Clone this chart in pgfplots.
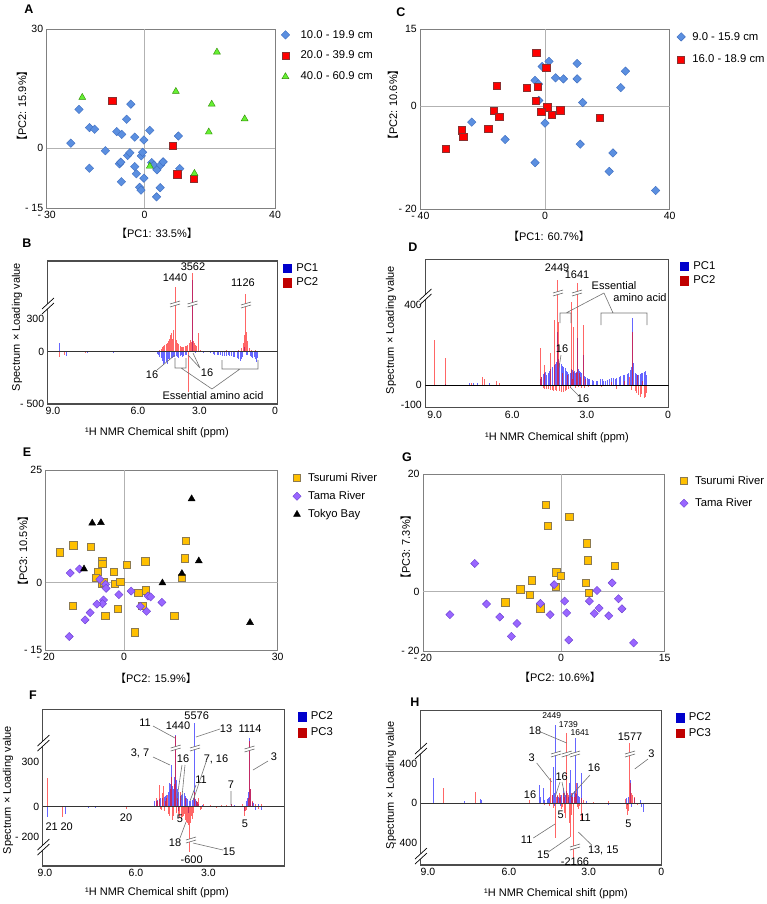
\documentclass[border=0pt]{standalone}
\usepackage{fontspec}
\setmainfont{Liberation Sans}
\newfontfamily\cjk{Noto Sans CJK JP}
\usepackage{pgfplots}
\pgfplotsset{compat=1.18}
\definecolor{dia}{HTML}{5B8FE0}
\definecolor{diaE}{HTML}{3E6DC0}
\definecolor{sqr}{HTML}{FF0000}
\definecolor{sqrE}{HTML}{8A3030}
\definecolor{tgr}{HTML}{66F033}
\definecolor{tgrE}{HTML}{2E8B00}
\definecolor{yel}{HTML}{FFC000}
\definecolor{yelE}{HTML}{8C7A50}
\definecolor{purp}{HTML}{9966FF}
\definecolor{purpE}{HTML}{6A40D0}
\definecolor{spB}{HTML}{0000FF}
\definecolor{spR}{HTML}{FF0000}
\definecolor{legB}{HTML}{0000CC}
\definecolor{legR}{HTML}{C00000}
\newcommand{\LB}{{\cjk【}}
\newcommand{\RB}{{\cjk】}}
\newcommand{\brk}[2]{%
  \fill[white] (#1-5,#2) -- (#1+5,#2-3) -- (#1+5,#2) -- (#1-5,#2+3) -- cycle;
  \draw[black!60,line width=0.6pt] (#1-5,#2) -- (#1+5,#2-3) (#1-5,#2+3) -- (#1+5,#2);}
\newcommand{\ybrk}[2]{%
  \fill[white] (#1-6,#2+3) -- (#1+6,#2-8) -- (#1+6,#2-3) -- (#1-6,#2+8) -- cycle;
  \draw[black,line width=0.7pt] (#1-6,#2+3) -- (#1+6,#2-8) (#1-6,#2+8) -- (#1+6,#2-3);}
\pgfplotsset{
  base/.style={scale only axis, anchor=north west, tick style={draw=none}, major tick length=0pt,
    tick label style={font=\fontsize{10.5}{12}\selectfont}, legend cell align=left},
  sc/.style={base, axis line style={draw=black!50, line width=0.9pt},
    legend style={at={(1,1)}, anchor=north west, draw=none, fill=none,
      font=\fontsize{11.3}{13}\selectfont, row sep=7pt, column sep=4pt, inner sep=0pt, xshift=2pt, yshift=1pt}},
  sp/.style={base, x dir=reverse, axis line style={draw=black!70, line width=1.4pt},
    legend style={at={(1,1)}, anchor=north west, draw=none, fill=none,
      font=\fontsize{11.3}{13}\selectfont, row sep=1pt, column sep=3pt, inner sep=0pt, xshift=5pt, yshift=0pt}},
  comb/.style={ycomb, forget plot, line width=1.0pt, opacity=0.6},
  mdia/.style={only marks, mark=square*, mark size=3.0pt, mark options={rotate=45, fill=dia, draw=diaE, line width=0.4pt}},
  msqr/.style={only marks, mark=square*, mark size=3.6pt, mark options={fill=sqr, draw=sqrE, line width=0.5pt}},
  mtri/.style={only marks, mark=triangle*, mark size=4pt, mark options={fill=tgr, draw=tgrE, line width=0.4pt}},
  myel/.style={only marks, mark=square*, mark size=3.7pt, mark options={fill=yel, draw=yelE, line width=0.7pt}},
  mpur/.style={only marks, mark=square*, mark size=2.9pt, mark options={rotate=45, fill=purp, draw=purpE, line width=0.4pt}},
  mblk/.style={only marks, mark=triangle*, mark size=4pt, mark options={fill=black, draw=black}},
}
\begin{document}
\begin{tikzpicture}[font=\fontsize{11}{13}\selectfont]
\path[use as bounding box] (0pt,0pt) rectangle (766pt,-904pt);

% ---------------- A ----------------
\begin{axis}[sc, at={(46.7pt,-29pt)}, width=228.3pt, height=179pt,
  xmin=-30, xmax=40, ymin=-15, ymax=30,
  xtick={-30,0,40}, xticklabels={- 30,0,40}, ytick={-15,0,30}, yticklabels={- 15,0,30},
  legend style={row sep=7.5pt, column sep=9pt, xshift=4pt}]
\draw[black!30, line width=0.7pt] (0,-15) -- (0,30) (-30,0) -- (40,0);
\addplot[mdia] coordinates {(-22.6,1.3) (-20.1,9.8) (-16.9,5.2) (-15.3,4.8) (-16.9,-5.0) (-12.0,-0.6)
 (-8.5,4.2) (-7.0,3.5) (-7.7,-3.9) (-7.3,-3.5) (-7.1,-8.4) (-5.2,-1.8) (-4.5,-1.1) (-5.5,7.3) (-4.2,11.1)
 (-3.0,2.8) (-3.0,-4.6) (-2.5,-6.4) (-1.0,-1.9) (-0.6,-1.0) (-0.2,2.1) (-0.2,-7.5) (-1.5,-9.8) (-1.1,-10.5)
 (1.6,4.5) (2.2,-3.6) (2.9,-4.2) (3.8,-5.4) (4.9,-4.2) (5.7,-3.4) (4.8,-9.9) (3.7,-12.2) (10.4,3.1) (10.8,-5.1)};
\addlegendentry{10.0 - 19.9 cm}
\addplot[msqr] coordinates {(-9.9,12.0) (8.6,0.7) (10.0,-6.5) (15.2,-7.7)};
\addlegendentry{20.0 - 39.9 cm}
\addplot[mtri] coordinates {(-19.1,12.8) (9.6,14.3) (22.2,24.2) (20.6,11.1) (30.7,7.4) (19.7,4.1) (1.6,-4.5) (15.3,-6.3)};
\addlegendentry{40.0 - 60.9 cm}
\end{axis}

% ---------------- C ----------------
\begin{axis}[sc, at={(420.3pt,-29pt)}, width=249.4pt, height=180pt,
  xmin=-40, xmax=40, ymin=-20, ymax=15,
  xtick={-40,0,40}, xticklabels={- 40,0,40}, ytick={-20,0,15}, yticklabels={- 20,0,15},
  legend style={row sep=9.5pt, yshift=-2pt, xshift=5pt, column sep=5pt}]
\draw[black!30, line width=0.7pt] (0,-20) -- (0,15) (-40,0) -- (40,0);
\addplot[mdia] coordinates {(-23.5,-3.1) (-12.8,-6.5) (-3.2,-11.0) (-0.9,7.7) (1.3,8.7) (-3.2,5.0) (-2.1,4.3)
 (-2.0,1.1) (0.0,-3.3) (3.4,5.5) (5.9,5.3) (10.3,8.3) (10.3,5.3) (12.1,0.7) (11.3,-7.4) (21.8,-9.1)
 (20.6,-12.7) (24.3,3.6) (25.8,6.8) (35.5,-16.4)};
\addlegendentry{9.0 - 15.9 cm}
\addplot[msqr] coordinates {(-31.9,-8.3) (-26.8,-4.7) (-26.2,-6.0) (-18.2,-4.4) (-16.4,-0.9) (-14.7,-2.0)
 (-15.6,3.9) (-5.8,3.5) (-2.8,10.4) (-2.4,3.8) (-3.0,1.0) (0.4,7.4) (0.7,-0.2) (-1.2,-1.1) (2.2,-1.7)
 (4.9,-0.8) (17.6,-2.2)};
\addlegendentry{16.0 - 18.9 cm}
\end{axis}

% ---------------- B ----------------
\begin{axis}[sp, at={(47.7pt,-261pt)}, width=230pt, height=143pt,
  xmin=0.075, xmax=9.094, ymin=-475, ymax=825,
  xtick={8.886,5.553,3.149,0.180}, xticklabels={9.0,6.0,3.0,0},
  ytick={-475,0,300}, yticklabels={- 500,0,300}]
\addlegendimage{legend image code/.code={\fill[legB] (0pt,-4.5pt) rectangle (8pt,4pt);}}
\addlegendentry{PC1}
\addlegendimage{legend image code/.code={\fill[legR] (0pt,-4.5pt) rectangle (8pt,4pt);}}
\addlegendentry{PC2}
\addplot[comb, spB] coordinates {(8.62,76) (8.35,-40) (7.55,-12) (6.5,-8) (4.75,-30) (4.65,-60) (4.55,-121)
 (4.45,-90) (4.35,-70) (4.25,-60) (4.15,-50) (4.05,-40) (3.95,-60) (3.85,-30) (3.75,-40) (3.65,-25)
 (3.42,650) (3.3,-15) (3.0,-10) (2.7,-12) (2.55,-25) (2.4,-30) (2.25,-35) (2.1,-40) (1.95,-35) (1.8,-45)
 (1.65,-60) (1.55,-80) (1.45,-50) (1.38,40) (1.25,-30) (1.1,-45) (1.0,-50) (0.9,-91) (0.85,-60)
 (4.8,-20) (4.7,-45) (4.6,-80) (4.5,-100) (4.4,-110) (4.3,-75) (4.2,-55) (4.12,-45) (4.0,-50) (3.9,-35)
 (3.8,-45) (3.7,-30) (2.6,-20) (2.45,-28) (2.3,-25) (2.15,-38) (2.0,-30) (1.9,-42) (1.75,-50) (1.6,-70)
 (1.5,-65) (1.3,-25) (1.15,-40) (1.05,-55) (0.95,-70)};
\addplot[comb, spR] coordinates {(8.62,-45) (8.45,-30) (7.6,-8) (4.7,20) (4.6,40) (4.5,60) (4.4,80) (4.3,120)
 (4.23,167) (4.15,90) (4.1,590) (4.05,110) (4.0,76) (3.95,60) (3.9,55) (3.8,45) (3.7,50) (3.62,60)
 (3.58,-364) (3.5,106) (3.47,70) (3.42,713) (3.35,80) (3.19,167) (3.1,20) (2.8,8) (2.4,10) (2.1,12)
 (1.8,10) (1.6,15) (1.5,30) (1.42,61) (1.37,150) (1.32,524) (1.27,100) (1.2,30) (1.1,15) (0.95,20)
 (4.65,25) (4.55,50) (4.45,70) (4.35,100) (4.27,150) (4.2,120) (4.17,200) (4.07,150) (3.98,70) (3.88,50)
 (3.85,40) (3.75,45) (3.66,55) (3.55,70) (3.52,80) (3.45,90) (3.38,100) (3.3,60) (3.25,50) (1.4,80)
 (1.35,200) (1.3,180) (1.25,60)};
\draw[black!80, line width=0.9pt] (9.094,0) -- (0.075,0);
\end{axis}

% ---------------- D ----------------
\begin{axis}[sp, at={(425.3pt,-259.3pt)}, width=243.4pt, height=148pt,
  xmin=0, xmax=9.397, ymin=-111.5, ymax=628,
  xtick={9.035,6.039,3.154,0.027}, xticklabels={9.0,6.0,3.0,0},
  ytick={-100,0,400}, yticklabels={-100,0,400}, legend style={xshift=6pt}]
\addlegendimage{legend image code/.code={\fill[legB] (0pt,-4.5pt) rectangle (8pt,4pt);}}
\addlegendentry{PC1}
\addlegendimage{legend image code/.code={\fill[legR] (0pt,-4.5pt) rectangle (8pt,4pt);}}
\addlegendentry{PC2}
\addplot[comb, spB] coordinates {(8.63,5) (7.68,12) (7.55,10) (7.4,8) (6.9,10) (4.94,30) (4.85,45) (4.78,60)
 (4.7,50) (4.6,70) (4.5,85) (4.42,100) (4.35,110) (4.3,267) (4.24,120) (4.15,105) (4.05,90) (3.95,70)
 (3.85,55) (3.75,80) (3.66,65) (3.6,60) (3.53,233) (3.45,70) (3.38,60) (3.3,150) (3.2,40) (3.1,30)
 (2.95,25) (2.8,20) (2.65,30) (2.5,20) (2.35,25) (2.2,35) (2.05,30) (1.9,40) (1.75,50) (1.6,55) (1.48,75)
 (1.39,333) (1.3,60) (1.2,50) (1.1,55) (1.0,60) (0.92,67) (0.85,50)
 (4.9,40) (4.82,55) (4.75,65) (4.65,60) (4.55,80) (4.47,90) (4.38,105) (4.33,115) (4.27,130) (4.2,110)
 (4.1,95) (4.0,85) (3.9,65) (3.8,60) (3.7,75) (3.63,70) (3.57,65) (3.5,80) (3.42,65) (3.35,55) (3.25,45)
 (3.15,35) (3.05,30) (2.9,20) (2.75,22) (2.55,28) (2.45,22) (2.3,30) (2.15,35) (2.0,35) (1.85,45)
 (1.7,48) (1.55,60) (1.44,85) (1.42,90) (1.35,110) (1.25,55) (1.15,50) (1.05,60) (0.95,65) (0.88,70)};
\addplot[comb, spR] coordinates {(9.03,225) (8.63,137) (7.6,10) (7.2,38) (7.13,30) (6.66,20) (6.55,12)
 (4.94,183) (4.85,-15) (4.78,100) (4.7,-20) (4.58,158) (4.5,-25) (4.42,325) (4.35,-30) (4.3,525)
 (4.24,317) (4.15,-35) (4.1,60) (4.0,-30) (3.9,50) (3.85,-20) (3.75,417) (3.66,292) (3.6,-15) (3.53,508)
 (3.45,60) (3.38,-15) (3.3,300) (3.2,30) (3.1,-10) (2.6,-10) (2.2,15) (2.0,-20) (1.7,20) (1.5,40)
 (1.45,-25) (1.39,267) (1.3,-30) (1.2,50) (1.1,-58) (1.0,20) (0.92,-65) (0.86,-40)
 (4.9,40) (4.8,-20) (4.65,-20) (4.55,-25) (4.45,-30) (4.38,-25) (4.28,80) (4.2,-30) (4.05,-35) (3.95,-25)
 (3.8,-15) (3.7,30) (3.55,60) (3.5,-10) (3.4,40) (3.25,-15) (1.25,-40) (1.15,-50) (1.05,-45) (0.95,-55)
 (0.88,-60)};
\draw[black, line width=0.9pt] (9.397,0) -- (0,0);
\end{axis}

% ---------------- E ----------------
\begin{axis}[sc, at={(45.7pt,-470pt)}, width=232pt, height=180pt,
  xmin=-15.28, xmax=30, ymin=-15, ymax=25,
  xtick={-15.28,0,30}, xticklabels={- 20,0,30}, ytick={-15,0,25}, yticklabels={- 15,0,25},
  legend style={row sep=4.5pt, yshift=-2pt, xshift=13pt, column sep=5pt}]
\draw[black!30, line width=0.7pt] (0,-15) -- (0,25) (-15.28,0) -- (30,0);
\addplot[myel] coordinates {(-12.5,6.7) (-9.9,8.3) (-6.5,7.9) (-4.2,4.7) (-4.2,4.1) (-5.1,2.4) (-5.5,1.0)
 (-4.3,-0.2) (-3.9,0.0) (-2.0,2.4) (-1.8,-0.3) (-0.7,0.2) (0.5,3.9) (4.2,4.7) (4.3,-1.7) (2.8,-2.3)
 (3.6,-5.2) (-1.2,-5.8) (-3.6,-7.4) (-10.0,-5.2) (2.1,-11.1) (9.8,-7.4) (11.3,1.1) (11.9,5.4) (12.1,9.3)};
\addlegendentry{Tsurumi River}
\addplot[mpur] coordinates {(-10.5,2.1) (-8.7,3.0) (-4.7,0.7) (-3.6,-0.4) (-3.5,-1.3) (-4.0,-3.9) (-4.2,-4.7)
 (-5.3,-4.8) (-6.6,-6.7) (-7.6,-8.3) (-10.7,-12.0) (-1.0,-2.7) (1.4,-1.9) (3.2,-5.3) (4.4,-6.4) (4.7,-3.0)
 (5.2,-3.2) (7.4,-4.4)};
\addlegendentry{Tama River}
\addplot[mblk] coordinates {(-6.2,13.2) (-4.5,13.3) (-7.8,3.0) (7.5,-0.1) (11.3,2.0) (14.6,4.8) (13.2,18.6) (24.6,-8.9)};
\addlegendentry{Tokyo Bay}
\end{axis}

% ---------------- G ----------------
\begin{axis}[sc, at={(423pt,-474pt)}, width=241.7pt, height=177pt,
  xmin=-20, xmax=15, ymin=-10.08, ymax=20,
  xtick={-20,0,15}, xticklabels={- 20,0,15}, ytick={-10.08,0,20}, yticklabels={- 20,0,20},
  legend style={row sep=8.5pt, yshift=-1pt, xshift=13pt, column sep=5pt}]
\draw[black!30, line width=0.7pt] (0,-10.08) -- (0,20) (-20,0) -- (15,0);
\addplot[myel] coordinates {(-2.2,14.8) (-1.9,11.2) (1.2,12.7) (3.7,8.2) (3.9,5.3) (7.8,4.4) (-0.7,3.3)
 (0.0,2.7) (-0.8,0.8) (-4.2,1.9) (-5.9,0.4) (-4.5,-0.5) (-8.1,-1.8) (-3.0,-2.8) (3.6,1.5) (4.0,-0.2)};
\addlegendentry{Tsurumi River}
\addplot[mpur] coordinates {(-12.5,4.8) (-16.1,-3.9) (-10.8,-2.1) (-8.9,-4.3) (-6.4,-5.4) (-7.2,-7.6)
 (-3.0,-2.0) (-1.6,-3.9) (-1.0,1.2) (0.5,-1.6) (0.8,-3.6) (1.1,-8.2) (4.1,-1.6) (5.2,0.2) (4.8,-3.7)
 (5.5,-2.8) (6.9,-4.1) (7.4,1.5) (8.3,-1.2) (8.8,-2.9) (10.5,-8.7)};
\addlegendentry{Tama River}
\end{axis}

% ---------------- F ----------------
\begin{axis}[sp, at={(42.7pt,-709.3pt)}, width=241.6pt, height=156.7pt,
  xmin=0.045, xmax=9.094, ymin=-395, ymax=649,
  xtick={9.007,5.599,2.891,0.019}, xticklabels={9.0,6.0,3.0,0},
  ytick={-200,0,300}, yticklabels={- 200,0,300}, legend style={xshift=8pt, row sep=3pt}]
\addlegendimage{legend image code/.code={\fill[legB] (0pt,-4.5pt) rectangle (8pt,4pt);}}
\addlegendentry{PC2}
\addlegendimage{legend image code/.code={\fill[legR] (0pt,-4.5pt) rectangle (8pt,4pt);}}
\addlegendentry{PC3}
\addplot[comb, spB] coordinates {(8.91,-67) (8.23,-50) (7.39,-10) (7.1,-5) (4.9,40) (4.8,30) (4.73,50)
 (4.6,60) (4.5,70) (4.4,100) (4.3,150) (4.26,278) (4.18,120) (4.11,478) (4.05,120) (4.0,-30) (3.95,60)
 (3.88,80) (3.8,90) (3.72,60) (3.65,-40) (3.55,40) (3.42,556) (3.35,40) (3.25,20) (3.1,10) (2.6,8)
 (2.04,20) (1.9,10) (1.52,-30) (1.45,40) (1.39,100) (1.33,456) (1.25,30) (1.14,-20) (1.0,15) (0.89,-25)
 (4.85,35) (4.78,45) (4.68,55) (4.55,65) (4.45,80) (4.36,120) (4.33,160) (4.22,140) (4.15,200) (4.08,180)
 (4.02,100) (3.92,70) (3.85,85) (3.76,70) (3.68,50) (3.6,40) (3.5,45) (3.45,60) (3.38,50) (3.3,30)
 (1.42,60) (1.36,150) (1.3,120) (1.2,25)};
\addplot[comb, spR] coordinates {(8.91,189) (8.37,-67) (5.97,-15) (4.85,60) (4.73,145) (4.65,-20) (4.58,140)
 (4.5,40) (4.41,80) (4.35,-60) (4.26,200) (4.22,-89) (4.11,470) (4.05,60) (3.95,100) (3.9,-80) (3.82,-60)
 (3.76,60) (3.7,-100) (3.62,-120) (3.58,-300) (3.5,-80) (3.42,100) (3.35,40) (3.27,60) (3.15,-15)
 (3.08,20) (2.8,10) (2.6,-10) (2.4,12) (2.2,10) (2.04,20) (1.8,8) (1.6,15) (1.52,-60) (1.45,-20)
 (1.39,60) (1.33,440) (1.25,40) (1.14,20) (1.0,-15) (0.89,20)
 (4.8,40) (4.7,-15) (4.62,90) (4.55,-30) (4.47,60) (4.38,-50) (4.3,120) (4.24,-70) (4.18,-60) (4.14,150)
 (4.08,-40) (4.0,-50) (3.97,-70) (3.93,70) (3.86,-70) (3.79,-50) (3.73,-90) (3.66,-110) (3.6,-130)
 (3.55,-110) (3.52,-60) (3.46,-40) (3.3,30) (3.2,-20) (1.55,-45) (1.48,-30) (1.36,100) (1.3,120)};
\draw[black!80, line width=0.9pt] (9.094,0) -- (0.045,0);
\end{axis}

% ---------------- H ----------------
\begin{axis}[sp, at={(420.7pt,-710.7pt)}, width=240.6pt, height=154.3pt,
  xmin=0, xmax=9.29, ymin=-622, ymax=933,
  xtick={9.008,5.880,2.803,0}, xticklabels={9.0,6.0,3.0,0},
  ytick={-400,0,400}, yticklabels={- 400,0,400}, legend style={xshift=9pt, row sep=2pt}]
\addlegendimage{legend image code/.code={\fill[legB] (0pt,-4.5pt) rectangle (8pt,4pt);}}
\addlegendentry{PC2}
\addlegendimage{legend image code/.code={\fill[legR] (0pt,-4.5pt) rectangle (8pt,4pt);}}
\addlegendentry{PC3}
\addplot[comb, spB] coordinates {(8.79,252) (7.6,20) (7.0,40) (6.95,30) (4.71,184) (4.56,151) (4.4,40)
 (4.3,60) (4.17,369) (4.12,-30) (4.07,789) (3.98,60) (3.91,-30) (3.85,80) (3.78,150) (3.7,80) (3.6,60)
 (3.52,336) (3.45,50) (3.33,655) (3.24,200) (3.15,60) (3.07,302) (2.9,20) (2.05,-20) (1.36,50) (1.3,-20)
 (1.2,235) (1.14,-40) (1.05,50) (0.82,30) (0.75,-40) (0.69,-85)
 (4.65,60) (4.5,30) (4.35,50) (4.22,80) (4.14,100) (4.02,70) (3.95,50) (3.88,60) (3.75,100) (3.66,120)
 (3.56,200) (3.48,80) (3.42,100) (3.37,120) (3.28,90) (3.2,70) (3.1,40) (1.25,60) (1.18,120)};
\addplot[comb, spR] coordinates {(8.40,151) (7.17,114) (5.08,30) (4.5,-20) (4.26,252) (4.2,60) (4.09,-353)
 (4.0,80) (3.91,60) (3.85,-60) (3.78,100) (3.72,-100) (3.65,705) (3.58,80) (3.52,-337) (3.45,100)
 (3.40,-554) (3.35,60) (3.28,200) (3.2,-60) (3.07,-168) (3.0,30) (2.6,10) (2.05,25) (1.9,-10) (1.4,40)
 (1.31,-118) (1.21,605) (1.15,100) (1.1,60) (1.02,60) (0.9,-20)
 (4.3,-30) (4.22,80) (4.15,-50) (4.03,60) (3.95,100) (3.88,80) (3.8,-40) (3.75,60) (3.68,-150) (3.62,100)
 (3.55,-200) (3.47,-120) (3.43,60) (3.32,100) (3.25,-40) (3.15,-30) (3.1,50) (1.35,-60) (1.27,-80)
 (1.18,200) (1.13,80)};
\draw[black!80, line width=0.9pt] (9.29,0) -- (0,0);
\end{axis}

% ---------------- annotations (pixel coordinates) ----------------
\begin{scope}[x=1pt, y=-1pt]
\foreach \l/\x/\y in {A/29/9, B/27/243, C/401/12, D/413/247, E/27/452, F/33/695, G/407/457, H/415/702}
  \node[font=\fontsize{12.5}{14}\selectfont\bfseries] at (\x,\y) {\l};
\node at (157,233) {\LB PC1: 33.5\%\RB};
\node at (549,236) {\LB PC1: 60.7\%\RB};
\node at (156,678) {\LB PC2: 15.9\%\RB};
\node at (560,677) {\LB PC2: 10.6\%\RB};
\node[rotate=90] at (22,106) {\LB PC2: 15.9\%\RB};
\node[rotate=90] at (393,105) {\LB PC2: 10.6\%\RB};
\node[rotate=90] at (23,551) {\LB PC3: 10.5\%\RB};
\node[rotate=90] at (405.7,547) {\LB PC3: 7.3\%\RB};
\foreach \x/\y in {157/433, 557/438, 157/893, 556/894}
  \node at (\x,\y) {¹H NMR Chemical shift (ppm)};
\foreach \x/\y in {17/327, 391/330, 8/790, 391/785}
  \node[rotate=90] at (\x,\y) {Spectrum × Loading value};
\ybrk{48}{306} \ybrk{425.5}{297} \ybrk{43.5}{743} \ybrk{43.5}{847} \ybrk{421}{751} \ybrk{421}{856}
% ---- B ----
\brk{175}{304} \brk{192.5}{304} \brk{246}{305}
\node at (175,278) {1440};
\node at (193,267) {3562};
\node at (243,283) {1126};
\node at (152,375) {16};
\node at (207,373) {16};
\node at (213,396) {Essential amino acid};
\draw[black!55, line width=0.6pt] (157,370) -- (175,355)
  (200,368) -- (188,355) (200,368) -- (193,353)
  (175,358) -- (175,368) -- (186,368) -- (186,358)
  (222,360) -- (222,369) -- (258,369) -- (258,360)
  (181,368) -- (212,389) (240,369) -- (212,389);
% ---- D ----
\brk{558}{293} \brk{577}{293}
\node at (557,268) {2449};
\node at (577,275) {1641};
\node at (614,286) {Essential};
\node at (640,298) {amino acid};
\node at (562,349) {16};
\node at (583,399) {16};
\draw[black!55, line width=0.6pt] (560,323) -- (560,313) -- (571,313) -- (571,323)
  (601,325) -- (601,313) -- (647,313) -- (647,325)
  (604,293) -- (566,313) (604,293) -- (613,313)
  (561,355) -- (559,368) (578,395) -- (570,387);
% ---- F ----
\brk{175.7}{748} \brk{195}{748} \brk{249.5}{749} \brk{191}{840}
\node at (145,723) {11};
\node at (178,726) {1440};
\node at (196.7,716) {5576};
\node at (226,729) {13};
\node at (250,729) {1114};
\node at (140,753) {3, 7};
\node at (183,759) {16};
\node at (216,759) {7, 16};
\node at (274,757) {3};
\node at (201,780) {11};
\node at (231,785) {7};
\node at (51.7,827) {21};
\node at (66.7,827) {20};
\node at (126,818) {20};
\node at (180,819) {5};
\node at (245,824) {5};
\node at (175,843) {18};
\node at (229,852) {15};
\node at (191.7,860) {-600};
\draw[black!55, line width=0.6pt] (153,726) -- (175,738)
  (220,729) -- (196,737)
  (153,757) -- (170,765)
  (182,765) -- (176.7,800) (185,765) -- (181.7,800)
  (206.7,760) -- (193.3,800)
  (196,785) -- (190,801)
  (231,791) -- (231,805)
  (268,761) -- (253,770)
  (180,838) -- (186,822)
  (223,850) -- (193,843);
% ---- H ----
\brk{556}{754} \brk{566.7}{754} \brk{575}{754} \brk{630}{754} \brk{575}{847}
\node[font=\fontsize{8.5}{10}\selectfont] at (551.7,716) {2449};
\node[font=\fontsize{8.5}{10}\selectfont] at (568.3,724.3) {1739};
\node[font=\fontsize{8.5}{10}\selectfont] at (580,732.3) {1641};
\node at (535,731) {18};
\node at (630,737) {1577};
\node at (531.7,758) {3};
\node at (651.3,754) {3};
\node at (561.7,777) {16};
\node at (594,768) {16};
\node at (530,795) {16};
\node at (560.7,815) {5};
\node at (585,818) {11};
\node at (628.3,824) {5};
\node at (526.7,840) {11};
\node at (543.3,855) {15};
\node at (603.3,850) {13, 15};
\node at (575,862) {-2166};
\draw[black!55, line width=0.6pt] (540.7,732) -- (566.7,743)
  (536.7,763) -- (551.7,782)
  (648,759) -- (634.7,769)
  (560,782) -- (555,797) (562,782) -- (565,797)
  (590,775) -- (570,797)
  (533.3,838) -- (555,824)
  (548.3,852) -- (570,837)
  (591.7,845) -- (578.3,832);
\end{scope}
\end{tikzpicture}
\end{document}
